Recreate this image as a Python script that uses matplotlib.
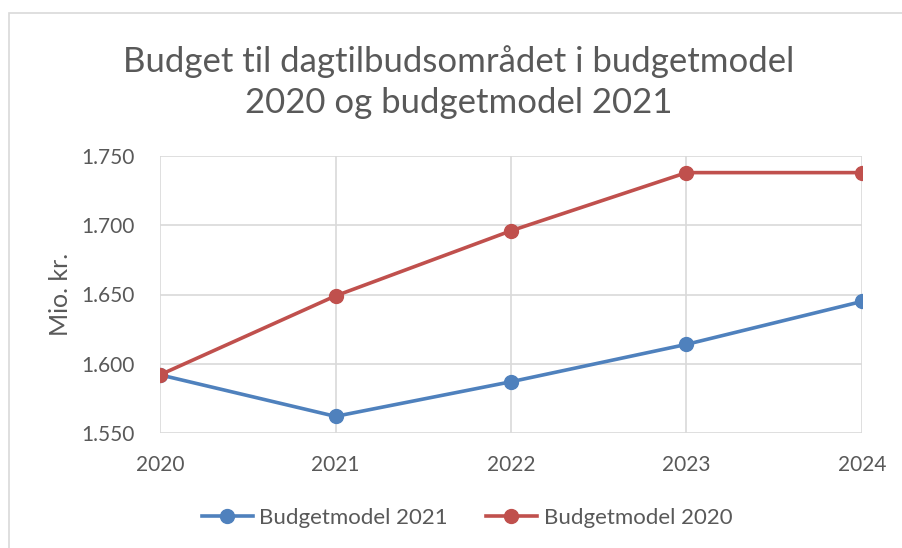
import matplotlib.pyplot as plt
from matplotlib.patches import Rectangle

years = ["2020", "2021", "2022", "2023", "2024"]
bm2021 = [1.592, 1.562, 1.587, 1.614, 1.645]
bm2020 = [1.592, 1.649, 1.696, 1.738, 1.738]
yticks = [1.550, 1.600, 1.650, 1.700, 1.750]

plt.rcParams['font.family'] = ['Lato', 'DejaVu Sans']
txt = '#595959'
grid = '#d9d9d9'

fig = plt.figure(figsize=(9.03, 5.48), dpi=100)
fig.patches.append(Rectangle((8.5/903, -0.1), 1.0, 1 - 12.5/548 + 0.1, transform=fig.transFigure,
                             fill=False, edgecolor=grid, linewidth=1.2))

ax = fig.add_axes([160/903, 1 - 433/548, 702/903, 277/548])
x = range(len(years))
ax.plot(x, bm2021, color='#4F81BD', lw=2.6, marker='o', ms=10, label='Budgetmodel 2021', zorder=3)
ax.plot(x, bm2020, color='#C0504D', lw=2.6, marker='o', ms=10, label='Budgetmodel 2020', zorder=3)

ax.set_xlim(0, len(years) - 1)
ax.set_ylim(1.550, 1.750)
ax.set_xticks(list(x))
ax.set_xticklabels(years)
ax.set_yticks(yticks)
ax.set_yticklabels([f"{v:.3f}" for v in yticks])
ax.grid(True, color=grid, lw=1.2)
ax.set_axisbelow(True)
for s in ax.spines.values():
    s.set_visible(False)
ax.tick_params(length=0, labelsize=15, colors=txt)
ax.tick_params(axis='x', pad=16)
ax.tick_params(axis='y', pad=18)
ax.set_ylabel('Mio. kr.', fontsize=18, color=txt, labelpad=7)

fig.text(0.508, 1 - 82/548, 'Budget til dagtilbudsområdet i budgetmodel\n2020 og budgetmodel 2021',
         ha='center', va='center', fontsize=25, color=txt, linespacing=1.32)

fig.legend(loc='center', bbox_to_anchor=(467/903, 1 - 518/548), ncol=2, frameon=False,
           fontsize=16, labelcolor=txt, handlelength=2.3, handletextpad=0.3, columnspacing=1.7)

fig.savefig('out.png', dpi=100)
